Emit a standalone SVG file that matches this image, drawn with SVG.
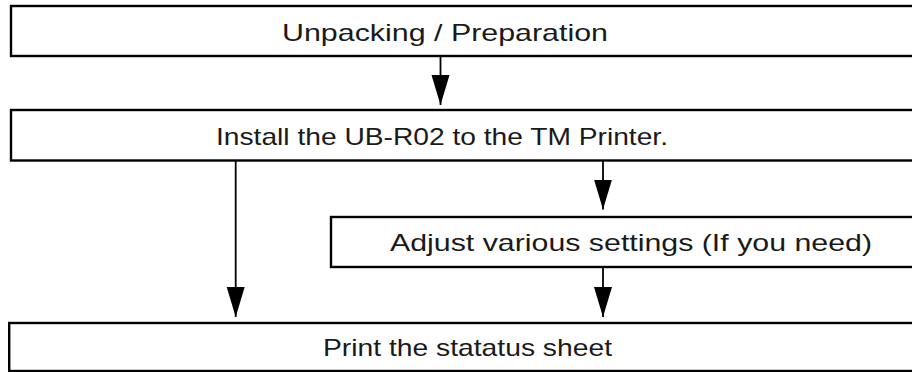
<svg xmlns="http://www.w3.org/2000/svg" width="912" height="372" viewBox="0 0 912 372">
<defs>
<style>
.box{fill:#fff;stroke:#000;stroke-width:2.4}
.lbl{font-family:"Liberation Sans","DejaVu Sans",sans-serif;font-size:24px;fill:#1a1a1a;text-anchor:middle}
.conn{stroke:#000;stroke-width:1.8;fill:none;marker-end:url(#ah)}
</style>
<marker id="ah" markerUnits="userSpaceOnUse" viewBox="0 -10 31 20" markerWidth="31" markerHeight="20" refX="30" refY="0" orient="auto">
<path d="M0,-9 L30,0 L0,9 z" fill="#000"/>
</marker>
</defs>
<rect width="912" height="372" fill="#fff"/>
<g id="connectors">
<line class="conn" x1="440.5" y1="57" x2="440.5" y2="105"/>
<line class="conn" x1="235.7" y1="161" x2="235.7" y2="317"/>
<line class="conn" x1="603" y1="161" x2="603" y2="209.5"/>
<line class="conn" x1="603" y1="268" x2="603" y2="317"/>
</g>
<g id="node-unpacking">
<rect class="box" x="11" y="6" width="910" height="50"/>
<text class="lbl" x="445" y="40.5" textLength="326" lengthAdjust="spacingAndGlyphs">Unpacking / Preparation</text>
</g>
<g id="node-install">
<rect class="box" x="11" y="110" width="910" height="50.5"/>
<text class="lbl" x="442" y="144.5" textLength="452" lengthAdjust="spacingAndGlyphs">Install the UB-R02 to the TM Printer.</text>
</g>
<g id="node-adjust">
<rect class="box" x="331" y="217" width="590" height="50"/>
<text class="lbl" x="631" y="251" textLength="482" lengthAdjust="spacingAndGlyphs">Adjust various settings (If you need)</text>
</g>
<g id="node-print">
<rect class="box" x="9.2" y="323" width="912" height="48"/>
<text class="lbl" x="467.5" y="356" textLength="289" lengthAdjust="spacingAndGlyphs">Print the statatus sheet</text>
</g>
</svg>
